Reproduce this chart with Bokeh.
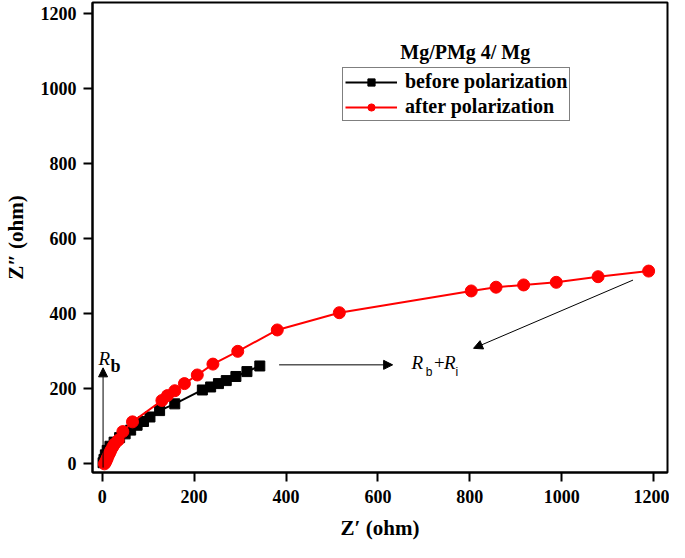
from bokeh.plotting import figure
from bokeh.models import Range1d, Legend, LegendItem, Arrow, NormalHead, Label
from bokeh.embed import file_html
from bokeh.resources import INLINE

# before polarization (black squares)
before_x = [2, 4, 7, 11, 17, 26, 38, 50, 62, 76, 90, 104, 125, 158, 218, 236, 253, 270, 291, 315, 343]
before_y = [3, 12, 24, 36, 47, 58, 70, 80, 90, 103, 113, 125, 142, 160, 197, 205, 214, 222, 233, 246, 261]

# after polarization (red circles)
after_x = [5, 7, 9, 11, 13, 16, 19, 23, 27, 35, 45, 66, 130, 142, 158, 179, 207, 241, 295, 381, 516, 803, 857, 917, 988, 1079, 1189]
after_y = [0, 4, 9, 15, 21, 28, 36, 45, 53, 63, 86, 112, 169, 182, 195, 214, 237, 266, 300, 357, 403, 461, 471, 477, 484, 499, 514]

ticks = [0, 200, 400, 600, 800, 1000, 1200]

FONT = "Liberation Serif"

p = figure(width=669, height=542, output_backend="svg", toolbar_location=None,
           x_range=Range1d(-21, 1230), y_range=Range1d(-23, 1230),
           min_border_left=73, min_border_right=2, min_border_top=2, min_border_bottom=62)
p.grid.visible = False
p.background_fill_color = "white"
p.border_fill_color = "white"
p.outline_line_color = "black"
p.outline_line_width = 2

for ax in (p.xaxis[0], p.yaxis[0]):
    ax.ticker = ticks
    ax.axis_line_width = 2
    ax.major_tick_line_width = 2
    ax.major_tick_out = 9
    ax.major_tick_in = 0
    ax.minor_tick_line_color = None
    ax.major_label_text_font = FONT
    ax.major_label_text_font_style = "bold"
    ax.major_label_text_font_size = "18px"
    ax.major_label_text_color = "black"
    ax.axis_label_text_font = FONT
    ax.axis_label_text_font_style = "bold"
    ax.axis_label_text_font_size = "21px"
    ax.axis_label_text_color = "black"

p.xaxis.axis_label = "Z\u2032 (ohm)"
p.yaxis.axis_label = "Z\u2033 (ohm)"
p.xaxis.major_label_standoff = 8
p.yaxis.major_label_standoff = 7
p.xaxis.axis_label_standoff = 10
p.yaxis.axis_label_standoff = 10

lb = p.line(before_x, before_y, line_color="black", line_width=2)
mb = p.scatter(before_x, before_y, marker="square", size=10, fill_color="black", line_color="black")
la = p.line(after_x, after_y, line_color="red", line_width=2)
ma = p.scatter(after_x, after_y, marker="circle", size=12, fill_color="red", line_color="red")

legend = Legend(items=[LegendItem(label="before polarization", renderers=[lb, mb]),
                       LegendItem(label="after polarization", renderers=[la, ma])],
                location=(250, 351))
legend.label_text_font = FONT
legend.label_text_font_style = "bold"
legend.label_text_font_size = "20px"
legend.label_text_color = "black"
legend.glyph_width = 52
legend.glyph_height = 18
legend.label_height = 18
legend.label_standoff = 8
legend.spacing = 2
legend.padding = 2
legend.margin = 0
legend.border_line_color = "black"
legend.border_line_width = 1.5
legend.background_fill_alpha = 1
p.add_layout(legend, "center")

p.add_layout(Label(x=790, y=1098, text="Mg/PMg 4/ Mg", text_font=FONT, text_font_style="bold",
                   text_font_size="20px", text_color="black", text_align="center",
                   text_baseline="alphabetic"))

# arrows
p.add_layout(Arrow(end=NormalHead(size=9, fill_color="black", line_color="black"),
                   x_start=2, y_start=-10, x_end=2, y_end=256, line_width=1))
p.add_layout(Arrow(end=NormalHead(size=9, fill_color="black", line_color="black"),
                   x_start=385, y_start=264, x_end=632, y_end=264, line_width=1))
p.add_layout(Arrow(end=NormalHead(size=9, fill_color="black", line_color="black"),
                   x_start=1155, y_start=490, x_end=808, y_end=308, line_width=1))

# annotation texts
p.add_layout(Label(x=-8, y=281, text="R", text_font=FONT, text_font_style="italic",
                   text_font_size="19px", text_color="black", text_baseline="alphabetic"))
p.add_layout(Label(x=18, y=260, text="b", text_font=FONT, text_font_style="bold",
                   text_font_size="18px", text_color="black", text_baseline="alphabetic"))
p.add_layout(Label(x=673, y=269, text="R", text_font=FONT, text_font_style="italic",
                   text_font_size="19px", text_color="black", text_baseline="alphabetic"))
p.add_layout(Label(x=704, y=244, text="b", text_font="Liberation Sans",
                   text_font_size="12px", text_color="black", text_baseline="alphabetic"))
p.add_layout(Label(x=722, y=269, text="+", text_font=FONT,
                   text_font_size="19px", text_color="black", text_baseline="alphabetic"))
p.add_layout(Label(x=744, y=269, text="R", text_font=FONT, text_font_style="italic",
                   text_font_size="19px", text_color="black", text_baseline="alphabetic"))
p.add_layout(Label(x=769, y=244, text="i", text_font="Liberation Sans",
                   text_font_size="12px", text_color="black", text_baseline="alphabetic"))

open("out.html", "w").write(file_html(p, INLINE))
